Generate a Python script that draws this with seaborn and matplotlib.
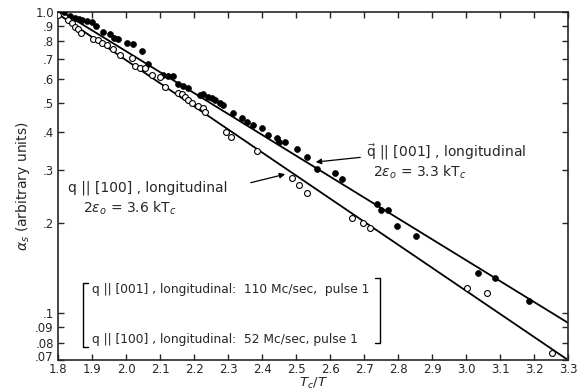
import matplotlib
matplotlib.use("Agg")
import numpy as np
import pandas as pd
import matplotlib.pyplot as plt
import matplotlib.transforms as mtransforms
import seaborn as sns

# q || [001], 110 Mc/sec (filled dots)
x_001 = [1.818, 1.835, 1.850, 1.862, 1.871, 1.885, 1.900, 1.912, 1.932, 1.953,
         1.965, 1.976, 2.003, 2.021, 2.047, 2.065, 2.109, 2.124, 2.138, 2.153,
         2.168, 2.182, 2.218, 2.226, 2.241, 2.253, 2.262, 2.276, 2.285, 2.315,
         2.341, 2.356, 2.374, 2.400, 2.418, 2.444, 2.450, 2.468, 2.503, 2.532,
         2.562, 2.615, 2.635, 2.738, 2.750, 2.771, 2.797, 2.853, 3.035, 3.085,
         3.185]
y_001 = [1.000, 0.970, 0.955, 0.948, 0.941, 0.934, 0.927, 0.899, 0.858, 0.845,
         0.820, 0.814, 0.789, 0.783, 0.742, 0.672, 0.617, 0.613, 0.613, 0.577,
         0.568, 0.559, 0.530, 0.534, 0.522, 0.518, 0.510, 0.499, 0.491, 0.462,
         0.444, 0.431, 0.421, 0.412, 0.390, 0.381, 0.370, 0.370, 0.350, 0.330,
         0.301, 0.292, 0.279, 0.230, 0.221, 0.221, 0.195, 0.180, 0.136, 0.131,
         0.110]

# q || [100], 52 Mc/sec (open circles)
x_100 = [1.800, 1.829, 1.841, 1.850, 1.859, 1.868, 1.903, 1.918, 1.929, 1.944,
         1.962, 1.982, 2.018, 2.026, 2.041, 2.056, 2.076, 2.100, 2.115, 2.153,
         2.165, 2.174, 2.182, 2.194, 2.212, 2.226, 2.232, 2.294, 2.309, 2.385,
         2.488, 2.509, 2.532, 2.665, 2.697, 2.718, 3.003, 3.062, 3.253]
y_100 = [0.977, 0.941, 0.919, 0.892, 0.878, 0.852, 0.813, 0.807, 0.789, 0.777,
         0.754, 0.720, 0.703, 0.662, 0.652, 0.652, 0.617, 0.608, 0.563, 0.538,
         0.534, 0.522, 0.510, 0.499, 0.487, 0.480, 0.466, 0.399, 0.384, 0.345,
         0.281, 0.266, 0.250, 0.207, 0.199, 0.192, 0.121, 0.117, 0.074]

# fitted straight lines (end points)
fit_x = [1.8, 3.3]
fit_001 = [1.02, 0.093]
fit_100 = [0.985, 0.070]

x_ticks = [1.8, 1.9, 2.0, 2.1, 2.2, 2.3, 2.4, 2.5, 2.6, 2.7, 2.8, 2.9, 3.0, 3.1, 3.2, 3.3]
y_ticks = [1.0, 0.9, 0.8, 0.7, 0.6, 0.5, 0.4, 0.3, 0.2, 0.1, 0.09, 0.08, 0.07]
y_labels = ["1.0", ".9", ".8", ".7", ".6", ".5", ".4", ".3", ".2", ".1", ".09", ".08", ".07"]

sns.set_style("ticks")
plt.rcParams['font.family'] = ['DejaVu Sans']

fig = plt.figure(figsize=(5.77, 3.92), dpi=100)
ax = fig.add_axes([58 / 577, 1 - 360 / 392, 510 / 577, 348 / 392])

df1 = pd.DataFrame({"x": x_001, "y": y_001})
df2 = pd.DataFrame({"x": x_100, "y": y_100})
lines = pd.DataFrame({"x": fit_x * 2, "y": fit_001 + fit_100,
                      "fit": ["001"] * 2 + ["100"] * 2})

sns.lineplot(data=lines, x="x", y="y", units="fit", estimator=None,
             color="black", lw=1.3, ax=ax)
sns.scatterplot(data=df1, x="x", y="y", color="black", s=18,
                edgecolor="black", linewidth=0.5, ax=ax, zorder=3)
sns.scatterplot(data=df2, x="x", y="y", facecolor="white", s=18,
                edgecolor="black", linewidth=0.8, ax=ax, zorder=3)

ax.set_yscale("log")
ax.set_xlim(1.8, 3.3)
ax.set_ylim(0.07, 1.0)
ax.set_xticks(x_ticks)
ax.set_xticklabels([f"{v:.1f}" for v in x_ticks])
ax.set_yticks(y_ticks)
ax.set_yticklabels(y_labels)
ax.minorticks_off()
ax.tick_params(direction="in", length=4, width=1, top=True, right=True,
               labelsize=8.5)
ax.tick_params(axis="x", pad=2)
ax.tick_params(axis="y", pad=3)
for sp in ax.spines.values():
    sp.set_linewidth(1.2)

# nudge the lowest y label up so it clears the "1.8" label
lab = ax.get_yticklabels()[-1]
lab.set_transform(lab.get_transform() +
                  mtransforms.ScaledTranslation(0, 4 / 100, fig.dpi_scale_trans))

ax.set_xlabel(r"$T_c/T$", fontsize=9.5, labelpad=0)
ax.set_ylabel(r"$\alpha_s$ (arbitrary units)", fontsize=10, labelpad=2)

fs = 10
ax.text(1.829, 0.262, "q || [100] , longitudinal", fontsize=fs, va="center")
ax.text(1.874, 0.223, r"2$\epsilon_o$ = 3.6 kT$_c$", fontsize=fs, va="center")
ax.annotate("", xy=(2.476, 0.291), xytext=(2.359, 0.270),
            arrowprops=dict(arrowstyle="-|>", color="black", lw=0.9,
                            mutation_scale=8))
ax.text(2.706, 0.343, r"$\vec{\mathrm{q}}$ || [001] , longitudinal", fontsize=fs, va="center")
ax.text(2.726, 0.294, r"2$\epsilon_o$ = 3.3 kT$_c$", fontsize=fs, va="center")
ax.annotate("", xy=(2.550, 0.317), xytext=(2.697, 0.330),
            arrowprops=dict(arrowstyle="-|>", color="black", lw=0.9,
                            mutation_scale=8))

ax.text(1.90, 0.120, "q || [001] , longitudinal:  110 Mc/sec,  pulse 1",
        fontsize=8.8, va="center")
ax.text(1.90, 0.0819, "q || [100] , longitudinal:  52 Mc/sec, pulse 1",
        fontsize=8.8, va="center")
# brackets around the key
ax.plot([1.888, 1.874, 1.874, 1.888], [0.1264, 0.1264, 0.0772, 0.0772],
        color="black", lw=1)
ax.plot([2.732, 2.747, 2.747, 2.732], [0.131, 0.131, 0.0796, 0.0796],
        color="black", lw=1)

plt.savefig("out.png", dpi=100)
